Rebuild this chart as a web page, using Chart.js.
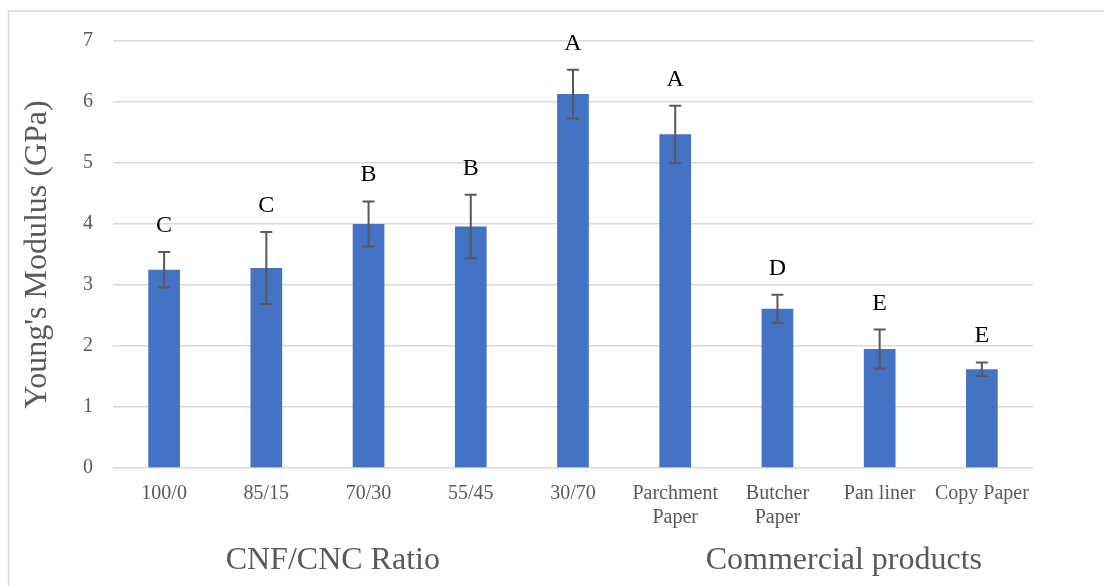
<!DOCTYPE html>
<html>
<head>
<meta charset="utf-8">
<script src="https://cdn.jsdelivr.net/npm/chart.js@4/dist/chart.umd.min.js"></script>
<style>
  html, body { margin: 0; padding: 0; background: #fff; }
  canvas { display: block; }
</style>
</head>
<body>
<canvas id="chart" width="1104" height="586"></canvas>
<script>
// Young's modulus of CNF/CNC films and commercial papers
const categories = ['100/0', '85/15', '70/30', '55/45', '30/70',
  ['Parchment', 'Paper'], ['Butcher', 'Paper'], 'Pan liner', 'Copy Paper'];
const modulus = [3.25, 3.28, 4.00, 3.96, 6.13, 5.47, 2.61, 1.95, 1.62];
const stdDev = [0.29, 0.59, 0.37, 0.52, 0.40, 0.47, 0.23, 0.32, 0.11];
const groupLetters = ['C', 'C', 'B', 'B', 'A', 'A', 'D', 'E', 'E'];
const yTicks = [0, 1, 2, 3, 4, 5, 6, 7];
const groupNames = ['CNF/CNC Ratio', 'Commercial products'];

const SERIF = "'Liberation Serif', 'Times New Roman', serif";
const GREY = '#595959';

// Frame lines, error bars, significance letters and group captions
const decorations = {
  id: 'decorations',
  beforeDraw(chart) {
    const ctx = chart.ctx;
    ctx.save();
    ctx.strokeStyle = '#d9d9d9';
    ctx.lineWidth = 1.5;
    ctx.beginPath();
    ctx.moveTo(8.5, 586);
    ctx.lineTo(8.5, 11);
    ctx.lineTo(1104, 11);
    ctx.stroke();
    ctx.restore();
  },
  afterDatasetsDraw(chart) {
    const ctx = chart.ctx;
    const x = chart.scales.x, y = chart.scales.y;
    ctx.save();
    ctx.strokeStyle = GREY;
    ctx.lineWidth = 2;
    modulus.forEach((v, i) => {
      const px = x.getPixelForValue(i);
      const top = y.getPixelForValue(v + stdDev[i]);
      const bot = y.getPixelForValue(v - stdDev[i]);
      ctx.beginPath();
      ctx.moveTo(px, top); ctx.lineTo(px, bot);
      ctx.moveTo(px - 6, top); ctx.lineTo(px + 6, top);
      ctx.moveTo(px - 6, bot); ctx.lineTo(px + 6, bot);
      ctx.stroke();
      ctx.fillStyle = '#000';
      ctx.font = '24px ' + SERIF;
      ctx.textAlign = 'center';
      ctx.textBaseline = 'alphabetic';
      ctx.fillText(groupLetters[i], px, top - 20);
    });
    // Group captions under the category labels
    ctx.fillStyle = GREY;
    ctx.font = '32px ' + SERIF;
    ctx.textAlign = 'center';
    ctx.textBaseline = 'middle';
    const captionAt = [1.65, 6.65];
    groupNames.forEach((name, k) => {
      ctx.fillText(name, x.getPixelForValue(captionAt[k]), 561);
    });
    ctx.restore();
  }
};

new Chart(document.getElementById('chart'), {
  type: 'bar',
  data: {
    labels: categories,
    datasets: [{
      data: modulus,
      backgroundColor: '#4472C4',
      borderWidth: 0,
      categoryPercentage: 1,
      barPercentage: 0.31
    }]
  },
  options: {
    responsive: false,
    animation: false,
    layout: { padding: { left: 0, top: 41, right: 71, bottom: 0 } },
    plugins: { legend: { display: false }, tooltip: { enabled: false } },
    scales: {
      x: {
        grid: { display: false, drawTicks: false },
        border: { display: false },
        ticks: {
          color: GREY,
          font: { family: SERIF, size: 20, lineHeight: 1.2 },
          padding: 14,
          maxRotation: 0,
          autoSkip: false
        },
        afterFit(scale) { scale.height = 118; }
      },
      y: {
        min: 0,
        max: 7,
        afterBuildTicks(scale) { scale.ticks = yTicks.map(v => ({ value: v })); },
        grid: { color: '#d9d9d9', lineWidth: 1.5, drawTicks: false },
        border: { display: false },
        ticks: {
          color: GREY,
          font: { family: SERIF, size: 20 },
          padding: 20
        },
        title: {
          display: true,
          text: "Young's Modulus (GPa)",
          color: GREY,
          font: { family: SERIF, size: 32, lineHeight: 1.2 },
          padding: { top: 18, bottom: 0 }
        },
        afterFit(scale) { scale.width = 113; }
      }
    }
  },
  plugins: [decorations]
});
</script>
</body>
</html>
